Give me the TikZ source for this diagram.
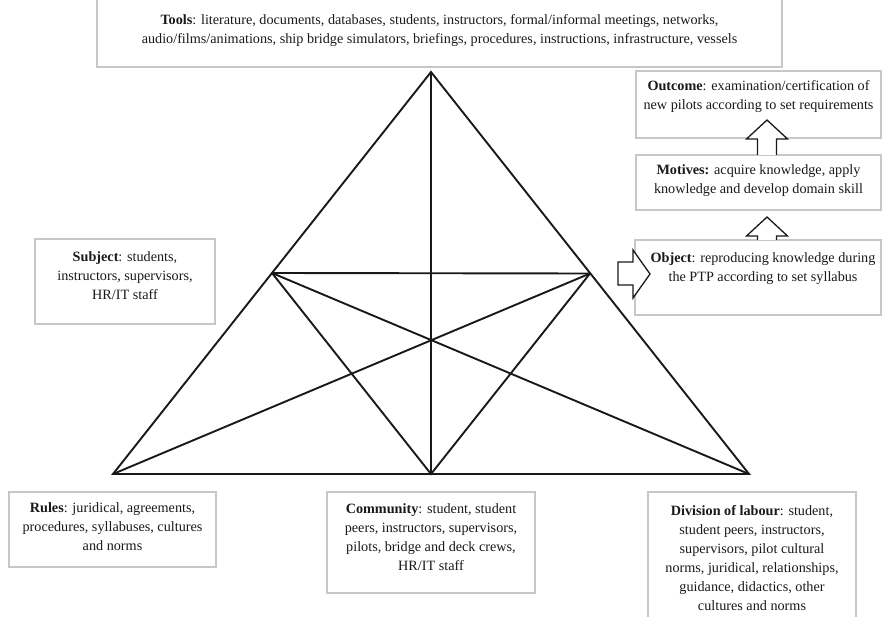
\documentclass[tikz,border=0pt]{standalone}
\usepackage{fontspec}
\setmainfont{Liberation Serif}
\usepackage{xcolor}

\tikzset{
    frame/.style={draw=black!22, line width=1.1pt, inner sep=0pt, text=black!90},
    tri/.style={line width=1.9pt, black!90},
    blockarrow/.style={draw=black!90, fill=white, line width=1.3pt}
}
% box text: width, height, top padding, text
\newcommand{\boxtext}[4]{\parbox[c][#2][t]{#1}{\centering\vspace*{#3}#4}}

\begin{document}
\begin{tikzpicture}[x=1pt, y=-1pt, font=\fontsize{14.2}{19}\selectfont]
    \useasboundingbox (0,0) rectangle (882,617);

    % triangle corners and midpoints
    \coordinate (apex) at (431, 72);
    \coordinate (bl) at (113, 474);
    \coordinate (br) at (749, 474);
    \coordinate (ml) at (272, 273);
    \coordinate (mr) at (590, 273.5);
    \coordinate (mb) at (431, 474);

    \draw [tri] (apex) -- (bl) -- (br) -- cycle;
    \draw [tri] (apex) -- (mb);
    \draw [tri] (ml) -- (mr);
    \draw [tri] (ml) -- (mb) -- (mr);
    \draw [tri] (bl) -- (mr);
    \draw [tri] (br) -- (ml);

    % boxes
    \node [frame] (tools) at (439.5, 31) {\boxtext{685pt}{72pt}{20pt}{\textbf{Tools}: literature, documents, databases, students, instructors, formal/informal meetings, networks,\\ audio/films/animations, ship bridge simulators, briefings, procedures, instructions, infrastructure, vessels}};
    \node [frame] (outcome) at (758.5, 104.5) {\boxtext{245pt}{67pt}{10pt}{\textbf{Outcome}: examination/certification of\\ new pilots according to set requirements}};
    \node [frame] (motives) at (758.5, 182.5) {\boxtext{245pt}{55pt}{10pt}{\textbf{Motives:} acquire knowledge, apply\\ knowledge and develop domain skill}};
    \node [frame] (object) at (758, 277.5) {\boxtext{246pt}{75pt}{13pt}{\hspace*{10pt}\textbf{Object}: reproducing knowledge during\\ \hspace*{10pt}the PTP according to set syllabus}};
    \node [frame] (subject) at (125, 281.5) {\boxtext{180pt}{85pt}{13pt}{\textbf{Subject}: students,\\ instructors, supervisors,\\ HR/IT staff}};
    \node [frame] (rules) at (112.5, 529.5) {\boxtext{207pt}{75pt}{11pt}{\textbf{Rules}: juridical, agreements,\\ procedures, syllabuses, cultures\\ and norms}};
    \node [frame] (community) at (431, 542.5) {\boxtext{208pt}{101pt}{12pt}{\textbf{Community}: student, student\\ peers, instructors, supervisors,\\ pilots, bridge and deck crews,\\ HR/IT staff}};
    \node [frame] (division) at (752, 557) {\boxtext{208pt}{130pt}{13pt}{\textbf{Division of labour}: student,\\ student peers, instructors,\\ supervisors, pilot cultural\\ norms, juridical, relationships,\\ guidance, didactics, other\\ cultures and norms}};

    % block arrows
    \foreach \x/\y/\t in {767/155/120, 767/240/217}
        \draw [blockarrow] (\x-9.5, \y) -- (\x-9.5, \t+19) -- (\x-20.5, \t+19) -- (\x, \t)
            -- (\x+20.5, \t+19) -- (\x+9.5, \t+19) -- (\x+9.5, \y);
    \draw [blockarrow] (618, 262) -- (633, 262) -- (633, 250) -- (650, 274)
        -- (633, 298) -- (633, 285) -- (618, 285) -- cycle;

\end{tikzpicture}
\end{document}
